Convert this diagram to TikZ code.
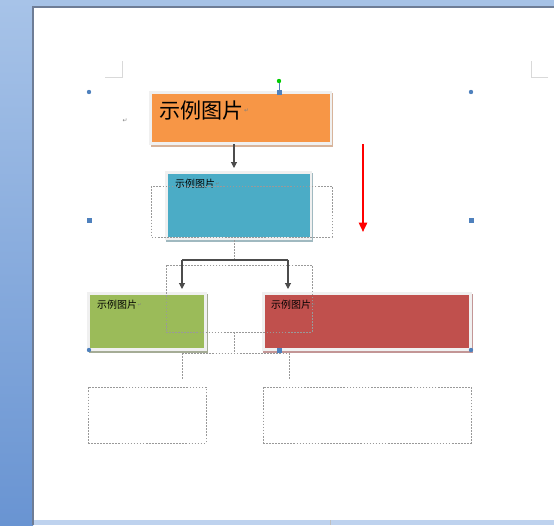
\documentclass[tikz,border=0pt]{standalone}
\usepackage{fontspec}
\newfontfamily\cjk{Noto Sans CJK SC}
\newfontfamily\simboli{DejaVu Sans}
\usetikzlibrary{arrows.meta,fit}

\definecolor{arancio}{HTML}{F79646}
\definecolor{azzurro}{HTML}{4BACC6}
\definecolor{verde}{HTML}{9BBB59}
\definecolor{rosso}{HTML}{C0504D}
\definecolor{maniglia}{HTML}{4F81BD}
\definecolor{cornice}{HTML}{F0F0F0}
\definecolor{ombra_ar}{HTML}{D7B49B}
\definecolor{ombra_az}{HTML}{A0B9C0}
\definecolor{ombra_ve}{HTML}{A5AC96}
\definecolor{ombra_ro}{HTML}{C39696}
\definecolor{cielo_su}{HTML}{A7C3E8}
\definecolor{cielo_mezzo}{HTML}{5A82BE}
\definecolor{cielo_giu}{HTML}{6994D2}
\definecolor{barra_su}{HTML}{A6C2E6}
\definecolor{barra_giu}{HTML}{BED2EE}
\definecolor{bordo}{HTML}{6E7D96}

\begin{document}
\begin{tikzpicture}[x=0.03cm,y=-0.03cm,
    riquadro/.style={fit={#1}, inner sep=0pt, outer sep=0pt},
    tratteggio/.style={gray!80, dash pattern=on 1.4pt off 1.2pt, line width=0.7pt},
    connettore/.style={black!70, line width=0.9pt},
    freccia/.style={connettore, -{Triangle[length=5pt,width=5pt]}},
    testo/.style={inner sep=0pt, anchor=west, font=\cjk}]
    \useasboundingbox (0,0) rectangle (554,525);

    % Finestra
    \fill[white] (0,0) rectangle (554,525);
    \shade[top color=cielo_su, middle color=cielo_mezzo, bottom color=cielo_giu] (0,0) rectangle (33,525);
    \fill[barra_su] (33,0) rectangle (554,7);
    \fill[barra_giu] (33,520) rectangle (554,525);
    \draw[bordo, line width=1pt] (33,525) -- (33,7) -- (554,7);
    \draw[gray!50] (330,520) -- (330,525);

    % Angoli della pagina
    \draw[gray!30, line width=0.8pt] (105,77) -- (122,77) -- (122,61);
    \draw[gray!30, line width=0.8pt] (548,77) -- (531,77) -- (531,61);

    % Riquadro arancione
    \fill[ombra_ar] (151,93) rectangle (333,147);
    \fill[cornice] (149,91) rectangle (332,145);
    \node[riquadro={(152,94) (330,142)}, fill=arancio] (b_arancio) {};
    \node[testo, font=\cjk\fontsize{18pt}{20pt}\selectfont] (t_arancio) at (159,111) {示例图片};
    \node[inner sep=0pt, anchor=west, gray, font=\simboli\fontsize{5pt}{6pt}\selectfont] at (t_arancio.east) {↵};
    \node[inner sep=0pt, gray, font=\simboli\fontsize{5pt}{6pt}\selectfont] (invio) at (125,121) {↵};

    % Riquadro azzurro
    \fill[ombra_az] (166,173) rectangle (313,242);
    \fill[cornice] (165,171) rectangle (312,240);
    \node[riquadro={(168,174) (310,237)}, fill=azzurro] (b_azzurro) {};
    \node[testo, font=\cjk\fontsize{8.5pt}{10pt}\selectfont] (t_azzurro) at (175,184) {示例图片};
    \node[inner sep=0pt, anchor=west, gray, font=\simboli\fontsize{4pt}{5pt}\selectfont] at (t_azzurro.east) {↵};

    % Riquadro verde
    \fill[ombra_ve] (89,294) rectangle (208,353);
    \fill[cornice] (87,292) rectangle (207,351);
    \node[riquadro={(90,295) (204,348)}, fill=verde] (b_verde) {};
    \node[testo, font=\cjk\fontsize{8.5pt}{10pt}\selectfont] (t_verde) at (97,305) {示例图片};
    \node[inner sep=0pt, anchor=west, gray, font=\simboli\fontsize{4pt}{5pt}\selectfont] at (t_verde.east) {↵};

    % Riquadro rosso
    \fill[ombra_ro] (263,294) rectangle (473,353);
    \fill[cornice] (262,292) rectangle (472,351);
    \node[riquadro={(265,295) (469,348)}, fill=rosso] (b_rosso) {};
    \node[testo, font=\cjk\fontsize{8.5pt}{10pt}\selectfont] (t_rosso) at (271,305) {示例图片};
    \node[inner sep=0pt, anchor=west, gray, font=\simboli\fontsize{4pt}{5pt}\selectfont] at (t_rosso.east) {↵};

    % Riquadri vuoti
    \node[riquadro={(88,387) (206,443)}, tratteggio, draw] (v_sinistra) {};
    \node[riquadro={(263,387) (471,443)}, tratteggio, draw] (v_destra) {};

    % Cornici tratteggiate
    \draw[tratteggio] (151,186) rectangle (332,237);
    \draw[tratteggio] (166,265) rectangle (312,332);
    \draw[tratteggio] (234,332) -- (234,353);
    \coordinate (d_sx) at (182,353);
    \coordinate (d_dx) at (289,353);
    \draw[tratteggio] (d_sx) -- (d_dx);
    \draw[tratteggio] (d_sx) -- (182,380);
    \draw[tratteggio] (d_dx) -- (289,380);

    % Connettori
    \coordinate (a_inizio) at (234,144);
    \coordinate (a_fine) at (234,168);
    \draw[freccia] (a_inizio) -- (a_fine);
    \coordinate (ramo) at (234,260);
    \coordinate (ramo_su) at (234,240);
    \draw[tratteggio] (ramo_su) -- (ramo);
    \coordinate (ramo_sx) at (182,260);
    \coordinate (ramo_dx) at (288,260);
    \coordinate (punta_sx) at (182,289);
    \coordinate (punta_dx) at (288,289);
    \draw[connettore] (ramo_sx) -- (ramo_dx);
    \draw[freccia] (ramo_sx) -- (punta_sx);
    \draw[freccia] (ramo_dx) -- (punta_dx);

    % Freccia rossa
    \coordinate (r_inizio) at (363,144);
    \coordinate (r_fine) at (363,232);
    \draw[red, line width=1.7pt, -{Triangle[length=8pt,width=7pt]}] (r_inizio) -- (r_fine);

    % Maniglie di selezione
    \draw[maniglia] (279,81) -- (279,92);
    \fill[green!80!black] (279,81) circle (2.2);
    \foreach \p in {(89,92),(471,92),(89,350),(471,350)}
        \fill[maniglia] \p circle (2.2);
    \foreach \p in {(279,92),(89,220),(471,220),(279,350)}
        \fill[maniglia] \p ++(-2.5,-2.5) rectangle ++(5,5);
\end{tikzpicture}
\end{document}
